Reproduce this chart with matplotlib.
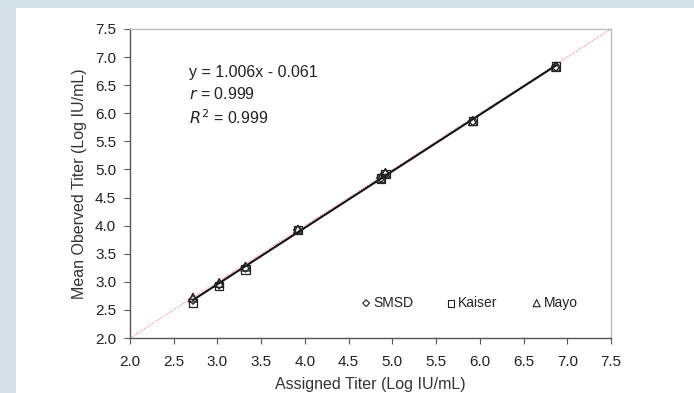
import numpy as np
import matplotlib.pyplot as plt
from matplotlib.patches import Rectangle

plt.rcParams['font.family'] = ['Liberation Sans', 'DejaVu Sans']

# Assigned titers (x) and mean observed titers per lab (y)
assigned = [2.72, 3.02, 3.32, 3.92, 4.87, 4.92, 5.92, 6.87]
smsd = [2.68, 2.95, 3.25, 3.92, 4.85, 4.92, 5.86, 6.83]
kaiser = [2.62, 2.92, 3.22, 3.92, 4.84, 4.92, 5.86, 6.83]
mayo = [2.72, 2.98, 3.27, 3.93, 4.85, 4.94, 5.86, 6.83]

slope, intercept = 1.006, -0.061
ticks = [2.0, 2.5, 3.0, 3.5, 4.0, 4.5, 5.0, 5.5, 6.0, 6.5, 7.0, 7.5]

fig = plt.figure(figsize=(6.94, 3.93), dpi=100)
fig.patch.set_facecolor('white')

# light blue frame around the white panel
fig.patches.append(Rectangle((0, 0), 16 / 694, 1, transform=fig.transFigure,
                             facecolor='#d2e2e6', edgecolor='none', zorder=0))
fig.patches.append(Rectangle((0, 1 - 8 / 393), 1, 8 / 393, transform=fig.transFigure,
                             facecolor='#d2e2e6', edgecolor='none', zorder=0))

ax = fig.add_axes([130 / 694, 55 / 393, 481 / 694, 309 / 393])

# identity line
ax.plot([2.0, 7.5], [2.0, 7.5], color='#ff6666', lw=0.7, ls=(0, (1, 1.5)), zorder=1)

# regression line
xs = np.array([min(assigned), max(assigned)])
ax.plot(xs, slope * xs + intercept, color='#111111', lw=1.5, zorder=2)

mk = dict(facecolor='none', edgecolor='#222222', linewidths=0.9, zorder=3)
ax.scatter(assigned, smsd, marker='D', s=20, **mk)
ax.scatter(assigned, kaiser, marker='s', s=36, **mk)
ax.scatter(assigned, mayo, marker='^', s=40, **mk)

ax.set_xlim(2.0, 7.5)
ax.set_ylim(2.0, 7.5)
ax.set_xticks(ticks)
ax.set_yticks(ticks)
ax.set_xticklabels([f'{t:.1f}' for t in ticks])
ax.set_yticklabels([f'{t:.1f}' for t in ticks])
ax.tick_params(direction='out', length=4, width=0.8, color='#555555',
               labelsize=11, labelcolor='#222222')
ax.tick_params(axis='x', pad=8)
ax.tick_params(axis='y', pad=6)

for side in ['left', 'bottom']:
    ax.spines[side].set_color('#555555')
    ax.spines[side].set_linewidth(1.0)
for side in ['right', 'top']:
    ax.spines[side].set_color('#bbbbbb')
    ax.spines[side].set_linewidth(1.0)

ax.set_xlabel('Assigned Titer (Log IU/mL)', fontsize=11.5, color='#333333', labelpad=6)
ax.set_ylabel('Mean Oberved Titer (Log IU/mL)', fontsize=11.5, color='#333333', labelpad=6)

txt = dict(fontsize=11.5, color='#222222', va='center', ha='left')
ax.text(2.67, 6.72, 'y = 1.006x - 0.061', **txt)
ax.text(2.67, 6.34, '$\\it{r}$ = 0.999', **txt)
ax.text(2.67, 5.93, '$\\it{R}^{2}$ = 0.999', **txt)

# legend drawn as marker + label in a row
leg_y = 2.62
for lx, m, s, name in [(4.70, 'D', 12, 'SMSD'), (5.67, 's', 24, 'Kaiser'), (6.65, '^', 26, 'Mayo')]:
    ax.scatter([lx], [leg_y], marker=m, s=s, facecolor='none', edgecolor='#222222',
               linewidths=0.8, clip_on=False)
    ax.text(lx + 0.08, leg_y, name, fontsize=10, color='#222222', va='center', ha='left')

fig.savefig('out.png', dpi=100)
